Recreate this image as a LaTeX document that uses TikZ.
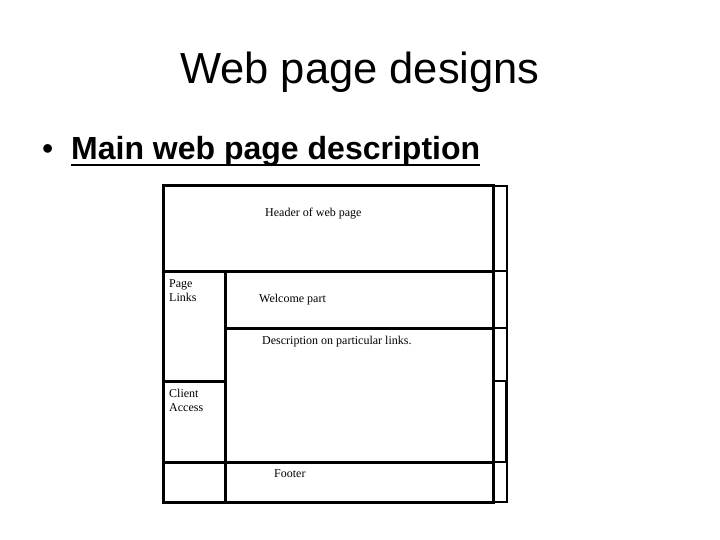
\documentclass[tikz,border=0pt]{standalone}
\usepackage{fontspec}
\setmainfont{Liberation Serif}
\newfontfamily\arialfont{Liberation Sans}
\begin{document}
\begin{tikzpicture}[x=1pt,y=-1pt,
  thick line/.style={line width=3pt,line cap=rect},
  thin line/.style={line width=1.2pt},
  lbl/.style={anchor=base west,inner sep=0pt,font=\fontsize{12}{14}\selectfont,align=left}]
\useasboundingbox[fill=white] (0,0) rectangle (720,540);
% title
\node[anchor=base,inner sep=0pt,font=\arialfont\fontsize{43.5}{50}\selectfont] (title) at (360,84) {Web page designs};
\node[anchor=base west,inner sep=0pt,font=\arialfont\fontsize{32}{38}\selectfont] (bullet) at (42,160) {•};
\node[anchor=base west,inner sep=0pt,font=\arialfont\bfseries\fontsize{32}{38}\selectfont] (sub) at (71,160) {Main web page description};
\draw[line width=2.4pt] ([yshift=-5]sub.base west) -- ([yshift=-5]sub.base east);
% right thin column
\draw[thin line] (493,186) -- (507,186) -- (507,502) -- (493,502);
\foreach \yy in {271,328,381,462} \draw[thin line] (493,\yy) -- (507,\yy);
\draw[line width=2pt] (506,381) -- (506,462);
% main layout
\draw[thick line] (163,186) rectangle (493,502);
\draw[thick line] (163,271) -- (493,271);
\draw[thick line] (225,271) -- (225,502);
\draw[thick line] (225,328) -- (493,328);
\draw[thick line] (163,381) -- (225,381);
\draw[thick line] (163,462) -- (493,462);
% labels
\node[lbl] (header) at (265,216) {Header of web page};
\node[lbl] (links) at (169,301) {Page\\Links};
\node[lbl] (welcome) at (259,302) {Welcome part};
\node[lbl] (desc) at (262,344) {Description on particular links.};
\node[lbl] (client) at (169,411) {Client\\Access};
\node[lbl] (footer) at (274,477) {Footer};
\end{tikzpicture}
\end{document}
